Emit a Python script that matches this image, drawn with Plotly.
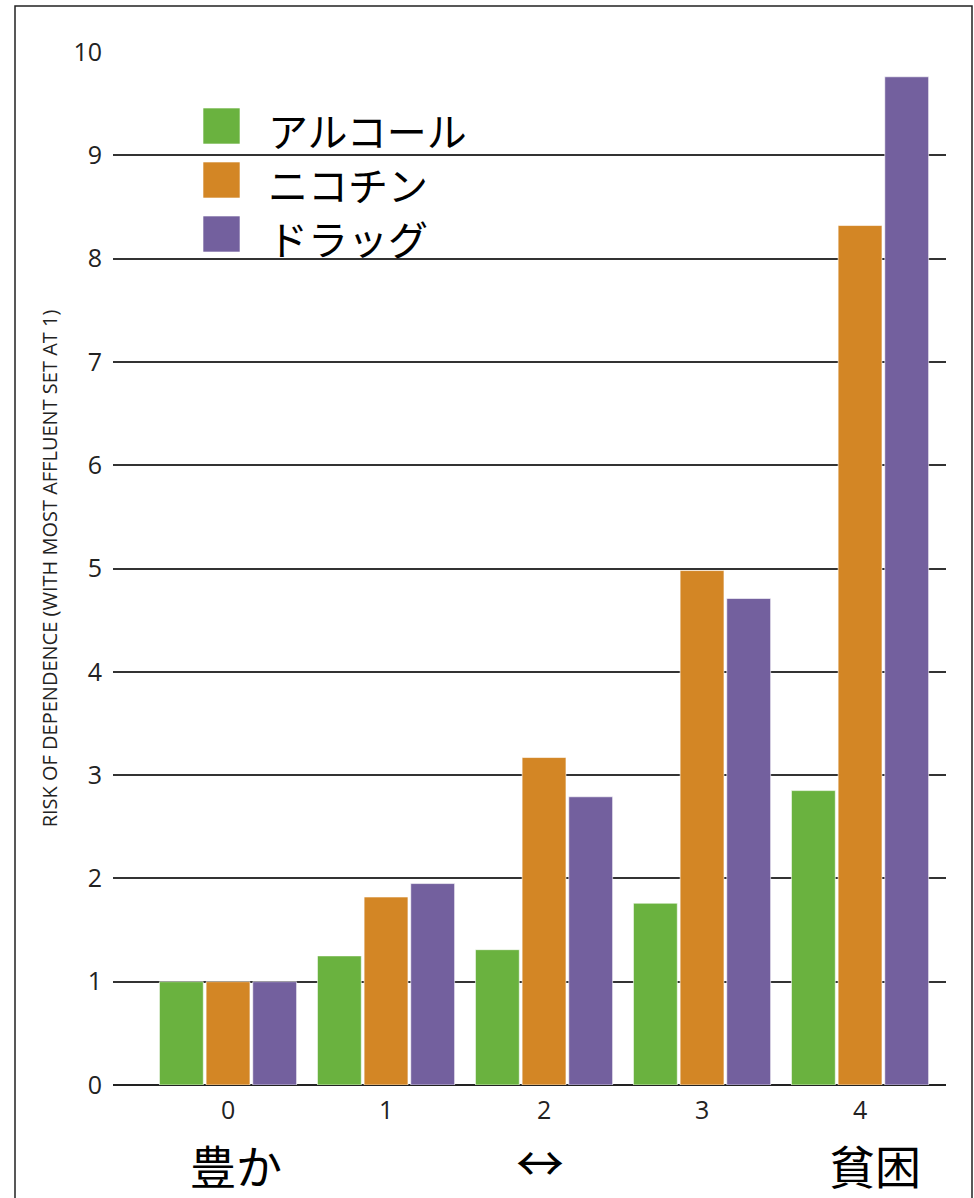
import plotly.graph_objects as go

categories = [0, 1, 2, 3, 4]
series_names = ["アルコール", "ニコチン", "ドラッグ"]
alcohol = [1.0, 1.25, 1.31, 1.76, 2.85]
nicotine = [1.0, 1.82, 3.17, 4.98, 8.32]
drugs = [1.0, 1.95, 2.79, 4.71, 9.76]
colors = ["#6AB23F", "#D38625", "#73609E"]
y_ticks = [0, 1, 2, 3, 4, 5, 6, 7, 8, 9, 10]
y_title = "RISK OF DEPENDENCE (WITH MOST AFFLUENT SET AT 1)"
bottom_labels = ["豊か", "↔", "貧困"]

W, H = 974, 1198
ml, mr, mt, mb = 113, 28, 52, 113
pw, ph = W - ml - mr, H - mt - mb

def px_x(p):
    return (p - ml) / pw

def px_y(p):
    return (H - mb - p) / ph

fig = go.Figure()
for name, vals, col in zip(series_names, [alcohol, nicotine, drugs], colors):
    fig.add_trace(go.Bar(
        x=categories, y=vals, name=name,
        marker=dict(color=col, line=dict(color="rgba(255,255,255,0.6)", width=1)),
        showlegend=False,
    ))

shapes = []
annotations = []

# outer frame
shapes.append(dict(type="rect", xref="paper", yref="paper",
                   x0=px_x(15), x1=px_x(972), y0=px_y(1205), y1=px_y(6),
                   line=dict(color="#222", width=1.5), fillcolor="rgba(0,0,0,0)", layer="above"))

# manual legend
shapes.append(dict(type="rect", xref="paper", yref="paper",
                   x0=px_x(249), x1=px_x(525), y0=px_y(268), y1=px_y(98),
                   line=dict(width=0), fillcolor="white", layer="between"))
leg_top = [108, 162, 216]
for name, col, t in zip(series_names, colors, leg_top):
    shapes.append(dict(type="rect", xref="paper", yref="paper",
                       x0=px_x(203), x1=px_x(240), y0=px_y(t + 36), y1=px_y(t),
                       line=dict(color="rgba(255,255,255,0.6)", width=1), fillcolor=col, layer="above"))
    annotations.append(dict(text=name, xref="paper", yref="paper",
                            x=px_x(266), y=px_y(t + 22), xanchor="left", yanchor="middle",
                            showarrow=False,
                            font=dict(family="Noto Sans CJK JP", size=40, color="black")))

label_pos = [236, 540, 875]
label_size = [46, 48, 46]
label_y = [1164, 1160, 1164]
for lab, cx, sz, cy in zip(bottom_labels, label_pos, label_size, label_y):
    annotations.append(dict(text=lab, xref="paper", yref="paper",
                            x=px_x(cx), y=px_y(cy), xanchor="center", yanchor="middle",
                            showarrow=False,
                            font=dict(family="Noto Sans CJK JP", size=sz, color="black")))

fig.update_layout(
    width=W, height=H,
    margin=dict(l=ml, r=mr, t=mt, b=mb, autoexpand=False),
    paper_bgcolor="white", plot_bgcolor="white",
    barmode="group", bargap=0.114, bargroupgap=0.06,
    shapes=shapes, annotations=annotations,
    font=dict(family="Open Sans, sans-serif", color="#222"),
    xaxis=dict(range=[-0.728, 4.544], tickmode="array", tickvals=categories,
               ticktext=[str(c) for c in categories], showgrid=False, zeroline=False,
               showline=False, ticks="", tickfont=dict(size=25), ticklabelstandoff=8),
    yaxis=dict(range=[0, 10], tickmode="array", tickvals=y_ticks,
               ticktext=[str(v) for v in y_ticks], showgrid=True, gridcolor="#333",
               gridwidth=1.6, zeroline=True, zerolinecolor="#222", zerolinewidth=2,
               showline=False, ticks="", tickfont=dict(size=25), ticklabelstandoff=10,
               title=dict(text=y_title, font=dict(size=20, color="#222"), standoff=10)),
)

fig.write_html("out.html")
